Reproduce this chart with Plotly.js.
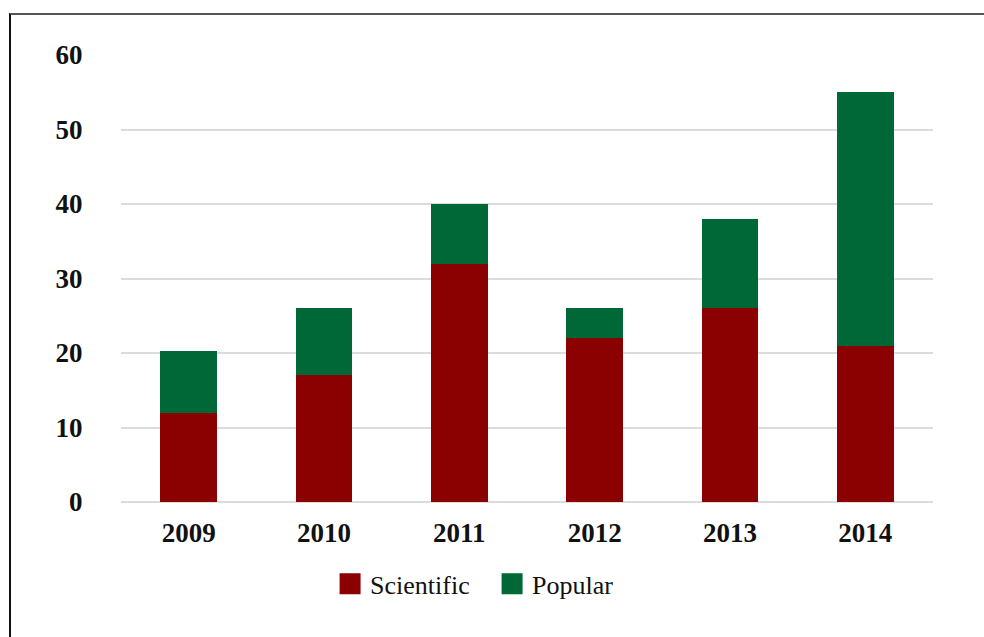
<!DOCTYPE html>
<html>
<head>
<meta charset="utf-8">
<script src="https://cdn.plot.ly/plotly-3.0.1.min.js"></script>
<style>
  html, body { margin: 0; padding: 0; background: #fff; width: 984px; height: 637px; overflow: hidden; }
  #frame { position: absolute; left: 9px; top: 13px; width: 975px; height: 624px;
           border-top: 2px solid #555; border-left: 2px solid #111; box-sizing: border-box; }
  #chart { position: absolute; left: 0; top: 0; width: 973px; height: 622px; }
</style>
</head>
<body>
<div id="frame"><div id="chart"></div></div>
<script>
const years = ['2009', '2010', '2011', '2012', '2013', '2014'];
const scientific = [12, 17, 32, 22, 26, 21];
const popular = [8.3, 9, 8, 4, 12, 34];
const yTicks = [0, 10, 20, 30, 40, 50, 60];

const red = '#8B0000';
const green = '#006837';
const serif = '"Liberation Serif", "Times New Roman", serif';

const traces = [
  { type: 'bar', x: years, y: scientific, name: 'Scientific', marker: { color: red }, showlegend: false, hoverinfo: 'x+y' },
  { type: 'bar', x: years, y: popular, name: 'Popular', marker: { color: green }, showlegend: false, hoverinfo: 'x+y' },
  { type: 'scatter', mode: 'markers', x: [null], y: [null], name: 'Scientific',
    marker: { symbol: 'square', size: 16, color: red, line: { width: 6, color: red } } },
  { type: 'scatter', mode: 'markers', x: [null], y: [null], name: 'Popular',
    marker: { symbol: 'square', size: 16, color: green, line: { width: 6, color: green } } }
];

const layout = {
  width: 973, height: 622,
  margin: { l: 110, r: 51, t: 40, b: 135 },
  barmode: 'stack',
  bargap: 0.58,
  paper_bgcolor: '#fff',
  plot_bgcolor: '#fff',
  font: { family: serif, color: '#000' },
  xaxis: {
    type: 'category',
    tickfont: { family: serif, size: 27, color: '#111', weight: 'bold' },
    showgrid: false, zeroline: false, showline: false,
    ticks: 'outside', ticklen: 7, tickcolor: 'rgba(0,0,0,0)'
  },
  yaxis: {
    range: [0, 60],
    tickvals: yTicks,
    ticktext: yTicks.map(String),
    tickfont: { family: serif, size: 27, color: '#111', weight: 'bold' },
    showgrid: true, gridcolor: '#dcdcdc', gridwidth: 2,
    zeroline: true, zerolinecolor: '#dcdcdc', zerolinewidth: 2,
    showline: false,
    ticks: 'outside', ticklen: 32, tickcolor: 'rgba(0,0,0,0)'
  },
  legend: {
    orientation: 'h', x: 0.457, xanchor: 'center', y: -0.183, yanchor: 'middle',
    traceorder: 'normal',
    entrywidth: 117,
    font: { family: serif, size: 26, color: '#111' },
    itemsizing: 'trace'
  },
  showlegend: true
};

Plotly.newPlot('chart', traces, layout, { displayModeBar: false, staticPlot: true });
</script>
</body>
</html>
